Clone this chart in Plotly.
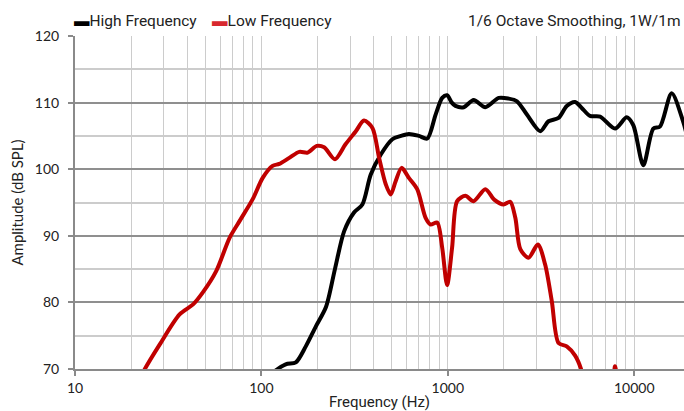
import plotly.graph_objects as go

# High Frequency driver response
hf_freq = [105, 115, 135, 153, 173, 196, 222, 248, 278, 314, 348, 386, 437, 504, 560,
           618, 700, 776, 860, 933, 991, 1050, 1099, 1218, 1376, 1589, 1876, 2118, 2350,
           2656, 3133, 3470, 3925, 4345, 4819, 5228, 5795, 6560, 7890, 9120, 9890,
           11190, 12660, 13740, 15880, 18320, 19000]
hf_db = [68.0, 69.4, 70.7, 71.0, 73.4, 76.4, 79.3, 85.0, 90.7, 93.5, 94.7, 99.2, 102.2, 104.5, 105.0,
         105.3, 105.0, 104.6, 108.2, 110.7, 111.1, 110.0, 109.5, 109.3, 110.4, 109.3, 110.7, 110.6, 110.2,
         108.2, 105.7, 107.2, 107.7, 109.5, 110.1, 109.2, 108.0, 107.9, 106.1, 107.8, 106.6,
         100.6, 106.1, 106.4, 111.4, 107.1, 105.5]

# Low Frequency driver response
lf_freq = [21, 23.7, 28.5, 36.4, 43, 48.5, 57.2, 67.5, 76.3, 89.8, 101.6, 114.8, 124.7, 141,
           159.7, 177, 198, 217, 248, 282, 321, 355, 394, 428, 465, 494, 525, 565, 618, 685,
           760, 808, 877, 933, 991, 1054, 1122, 1242, 1376, 1589, 1780, 1991, 2162, 2302,
           2448, 2711, 3040, 3327, 3612, 3925, 4345, 4819, 5228, 5500, 7500, 7880, 8250]
lf_db = [67.0, 70.0, 73.7, 78.2, 79.7, 81.5, 84.7, 89.7, 92.2, 95.5, 98.7, 100.5, 100.8, 101.7,
         102.6, 102.5, 103.5, 103.3, 101.5, 103.7, 105.7, 107.3, 106.2, 101.7, 97.7, 96.2, 98.2, 100.2, 98.7, 97.0,
         92.7, 91.7, 92.0, 88.2, 82.6, 88.2, 95.2, 96.0, 95.2, 97.0, 95.4, 94.7, 95.1, 92.7,
         88.0, 86.7, 88.7, 85.7, 80.2, 73.9, 73.4, 72.0, 69.7, 67.0, 66.0, 70.4, 66.0]

x_ticks = [10, 100, 1000, 10000]
x_ticktext = ["10", "100", "1000", "10000"]
x_minor = [m * d for d in (10, 100, 1000, 10000) for m in range(2, 10)]

fig = go.Figure()
fig.add_trace(go.Scatter(x=hf_freq, y=hf_db, mode="lines", name="High Frequency",
                         line=dict(color="#000000", width=4, shape="spline", smoothing=0.8)))
fig.add_trace(go.Scatter(x=lf_freq, y=lf_db, mode="lines", name="Low Frequency",
                         line=dict(color="#c00000", width=4, shape="spline", smoothing=0.8)))

fig.update_layout(
    width=684, height=411,
    margin=dict(l=75, r=0, t=36, b=42),
    paper_bgcolor="white", plot_bgcolor="white",
    showlegend=False,
    font=dict(family="Lato", size=13, color="#222"),
)

fig.update_xaxes(
    type="log", range=[1, 4.267],
    tickvals=x_ticks, ticktext=x_ticktext,
    ticks="outside", ticklen=5, tickcolor="#8a8a8a", tickwidth=1.5,
    showline=True, linecolor="#8a8a8a", linewidth=2,
    showgrid=True, gridcolor="#cccccc", gridwidth=1,
    minor=dict(tickvals=x_minor, showgrid=True, gridcolor="#cccccc", gridwidth=1, ticks=""),
    tickfont=dict(family="Lato", size=14, color="#222"),
    title=dict(text="Frequency (Hz)", font=dict(family="Roboto", size=15, color="#222"), standoff=4),
    zeroline=False,
)
fig.update_yaxes(
    range=[70, 120], dtick=10,
    ticks="outside", ticklen=5, tickcolor="#8a8a8a", tickwidth=1.5,
    showline=True, linecolor="#8a8a8a", linewidth=2,
    showgrid=True, gridcolor="#8f8f8f", gridwidth=1.5,
    minor=dict(dtick=5, showgrid=True, gridcolor="#cccccc", gridwidth=1.5, ticks=""),
    tickfont=dict(family="Lato", size=14, color="#222"),
    ticklabelstandoff=6,
    title=dict(text="Amplitude (dB SPL)", font=dict(family="Lato", size=15, color="#222"), standoff=8),
    zeroline=False,
)

fig.add_annotation(
    xref="paper", yref="paper", x=-0.005, y=1.045, xanchor="left", yanchor="middle",
    showarrow=False,
    text='<span style="color:#000000">▬</span>High Frequency&nbsp;&nbsp;&nbsp;&nbsp;<span style="color:#d8282e">▬</span>Low Frequency',
    font=dict(family="Roboto", size=15.5, color="#222"),
)
fig.add_annotation(
    xref="paper", yref="paper", x=0.997, y=1.045, xanchor="right", yanchor="middle",
    showarrow=False,
    text="1/6 Octave Smoothing, 1W/1m",
    font=dict(family="Roboto", size=15.5, color="#222"),
)

fig.write_html("out.html", config={"displayModeBar": False},
               post_script="document.body.style.margin='0px';")
